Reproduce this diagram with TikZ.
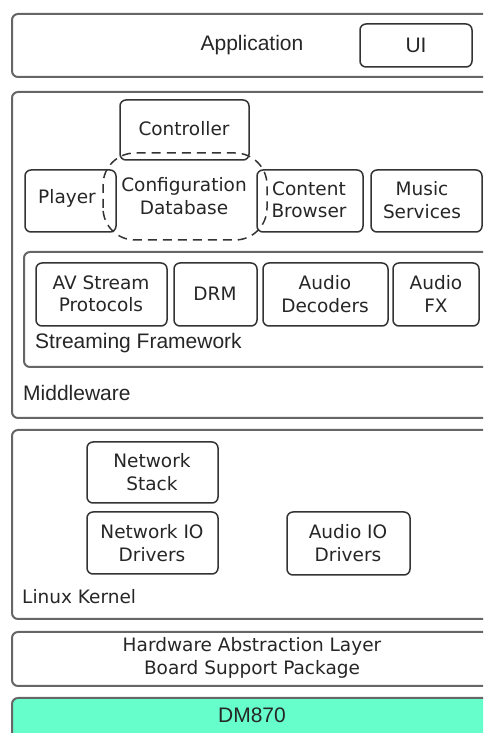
\documentclass[tikz,border=0pt]{standalone}
\usepackage{fontspec}
\setmainfont{DejaVu Sans}
\newfontfamily\arialfont{Liberation Sans}
\usepackage{tikz}
\usetikzlibrary{shapes}
\definecolor{chipgreen}{HTML}{66FFCC}
\tikzstyle{layer}=[draw=black!60, line width=2pt, rounded corners=6pt]
\tikzstyle{block}=[draw=black!80, line width=1.5pt, rounded corners=6pt, fill=white]
\tikzstyle{shared}=[draw=black!80, line width=1.5pt, dashed, dash pattern=on 9pt off 6pt, rounded corners=32pt]
\tikzstyle{boxtext}=[font=\fontsize{18.5}{22.5}\selectfont, text=black!85, align=center, inner sep=0pt]
\tikzstyle{layertext}=[font=\arialfont\fontsize{21}{24}\selectfont, text=black!85, inner sep=0pt]

\begin{document}
\begin{tikzpicture}
 	\useasboundingbox (0pt,0pt) rectangle (483pt,733pt);
 	\clip (0pt,0pt) rectangle (483pt,733pt);
 	\path[layer] (12pt,656pt) rectangle (495pt,719pt);
 	\path[layer] (12pt,315pt) rectangle (495pt,641pt);
 	\path[layer] (24pt,366pt) rectangle (495pt,481pt);
 	\path[layer] (12pt,114pt) rectangle (495pt,303pt);
 	\path[layer] (12pt,47pt) rectangle (495pt,101pt);
 	\path[layer, fill=chipgreen] (12pt,-12pt) rectangle (495pt,35pt);
 	\path[block] (360pt,666pt) rectangle (472pt,709pt);
 	\path[block] (120pt,573pt) rectangle (249pt,633pt);
 	\path[block] (25pt,501pt) rectangle (116pt,563pt);
 	\path[block] (257pt,501pt) rectangle (363pt,563pt);
 	\path[block] (371pt,501pt) rectangle (482pt,563pt);
 	\path[block] (36pt,407pt) rectangle (167pt,470pt);
 	\path[block] (174pt,407pt) rectangle (257pt,470pt);
 	\path[block] (263pt,407pt) rectangle (388pt,470pt);
 	\path[block] (393pt,407pt) rectangle (479pt,470pt);
 	\path[block] (87pt,230pt) rectangle (218pt,291pt);
 	\path[block] (87pt,159pt) rectangle (218pt,221pt);
 	\path[block] (287pt,158pt) rectangle (410pt,221pt);
 	\path[shared] (103pt,493pt) rectangle (267pt,580pt);
 	\node[layertext] (app) at (252pt,688pt) {Application};
 	\node[layertext] (ui) at (416pt,688pt) {UI};
 	\node[boxtext] (controller) at (184pt,604pt) {Controller};
 	\node[boxtext] (config) at (184pt,537pt) {Configuration\\Database};
 	\node[boxtext] (player) at (67pt,535pt) {Player};
 	\node[boxtext] (browser) at (309pt,533pt) {Content\\Browser};
 	\node[boxtext] (music) at (422pt,533pt) {Music\\Services};
 	\node[boxtext] (avstream) at (101pt,439pt) {AV Stream\\Protocols};
 	\node[boxtext] (drm) at (215pt,439pt) {DRM};
 	\node[boxtext] (decoders) at (325pt,439pt) {Audio\\Decoders};
 	\node[boxtext] (fx) at (436pt,439pt) {Audio\\FX};
 	\node[layertext, anchor=west] (streaming) at (35pt,390pt) {Streaming Framework};
 	\node[layertext, anchor=west] (middleware) at (23pt,340pt) {Middleware};
 	\node[boxtext] (netstack) at (152pt,261pt) {Network\\Stack};
 	\node[boxtext] (netio) at (152pt,190pt) {Network IO\\Drivers};
 	\node[boxtext] (audioio) at (348pt,190pt) {Audio IO\\Drivers};
 	\node[boxtext, anchor=west] (kernel) at (22pt,136pt) {Linux Kernel};
 	\node[boxtext] (hal) at (252pt,75pt) {Hardware Abstraction Layer\\Board Support Package};
 	\node[layertext] (chip) at (252pt,18pt) {DM870};
\end{tikzpicture}
\end{document}
